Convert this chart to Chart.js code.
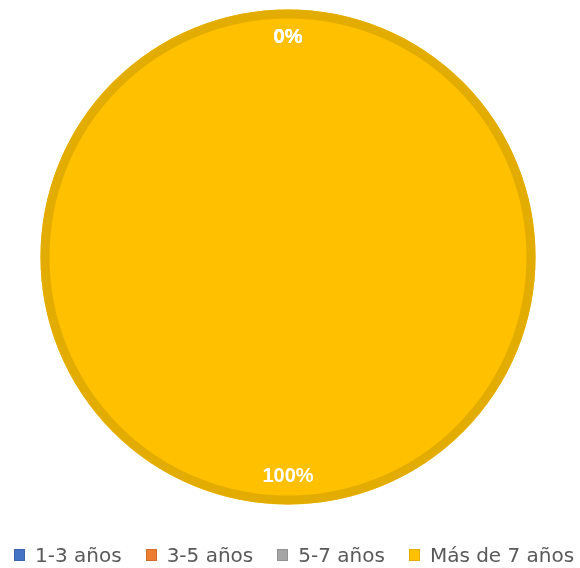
<!DOCTYPE html>
<html lang="es">
<head>
<meta charset="utf-8">
<title>Antigüedad</title>
<script src="https://cdn.jsdelivr.net/npm/chart.js@4.4.1/dist/chart.umd.min.js"></script>
<style>
  html, body { margin: 0; padding: 0; background: #ffffff; }
  #wrap { position: relative; width: 580px; height: 568px; }
  #chart { display: block; }
  #legend {
    position: absolute; left: 14px; top: 545px;
    display: flex; align-items: center; gap: 24px;
    font-family: "DejaVu Sans", sans-serif; font-size: 20px; line-height: 20px;
    color: #595959; white-space: nowrap;
  }
  #legend .item { display: flex; align-items: center; }
  #legend .box { width: 11px; height: 12px; margin-right: 10px; box-sizing: border-box; }
</style>
</head>
<body>
<div id="wrap">
  <canvas id="chart" width="580" height="568"></canvas>
  <div id="legend"></div>
</div>
<script>
// Años de antigüedad: categorías y porcentaje de cada grupo
const categories = ['1-3 años', '3-5 años', '5-7 años', 'Más de 7 años'];
const shares = [0, 0, 0, 100];
const sliceColors = ['#4472C4', '#ED7D31', '#A5A5A5', '#FFC000'];
const edgeColors = ['#3B64AD', '#D06C2A', '#919191', '#E3AC00'];

// Contorno exterior de cada sector (sin línea radial en el sector completo)
const outerEdge = {
  id: 'outerEdge',
  afterDatasetsDraw(chart) {
    const ctx = chart.ctx;
    const meta = chart.getDatasetMeta(0);
    const w = 9;
    meta.data.forEach((arc, i) => {
      const p = arc.getProps(['x', 'y', 'startAngle', 'endAngle', 'outerRadius'], true);
      if (p.endAngle - p.startAngle <= 0) return;
      ctx.save();
      ctx.beginPath();
      ctx.arc(p.x, p.y, p.outerRadius - w / 2, p.startAngle, p.endAngle);
      ctx.lineWidth = w;
      ctx.strokeStyle = edgeColors[i];
      ctx.stroke();
      ctx.restore();
    });
  }
};

// Etiquetas de porcentaje dentro de cada sector
const sliceLabels = {
  id: 'sliceLabels',
  afterDraw(chart) {
    const ctx = chart.ctx;
    const meta = chart.getDatasetMeta(0);
    const values = chart.data.datasets[0].data;
    ctx.save();
    ctx.font = 'bold 20px "Liberation Sans", Arial, sans-serif';
    ctx.fillStyle = '#ffffff';
    ctx.textAlign = 'center';
    ctx.textBaseline = 'middle';
    meta.data.forEach((arc, i) => {
      const p = arc.getProps(['x', 'y', 'startAngle', 'endAngle', 'outerRadius'], true);
      const mid = (p.startAngle + p.endAngle) / 2;
      const r = p.outerRadius * 0.885;
      ctx.fillText(values[i] + '%', p.x + Math.cos(mid) * r, p.y + Math.sin(mid) * r);
    });
    ctx.restore();
  }
};

new Chart(document.getElementById('chart'), {
  type: 'pie',
  data: {
    labels: categories,
    datasets: [{
      data: shares,
      backgroundColor: sliceColors,
      borderWidth: 0
    }]
  },
  options: {
    responsive: false,
    animation: false,
    devicePixelRatio: 1,
    layout: { padding: { top: 9.5, bottom: 63.5, left: 0, right: 4 } },
    plugins: {
      legend: { display: false },
      tooltip: { enabled: false }
    }
  },
  plugins: [outerEdge, sliceLabels]
});

// Leyenda
const legend = document.getElementById('legend');
categories.forEach((name, i) => {
  const item = document.createElement('div');
  item.className = 'item';
  const box = document.createElement('span');
  box.className = 'box';
  box.style.background = sliceColors[i];
  box.style.border = '1px solid ' + edgeColors[i];
  const text = document.createElement('span');
  text.textContent = name;
  item.appendChild(box);
  item.appendChild(text);
  legend.appendChild(item);
});
</script>
</body>
</html>
